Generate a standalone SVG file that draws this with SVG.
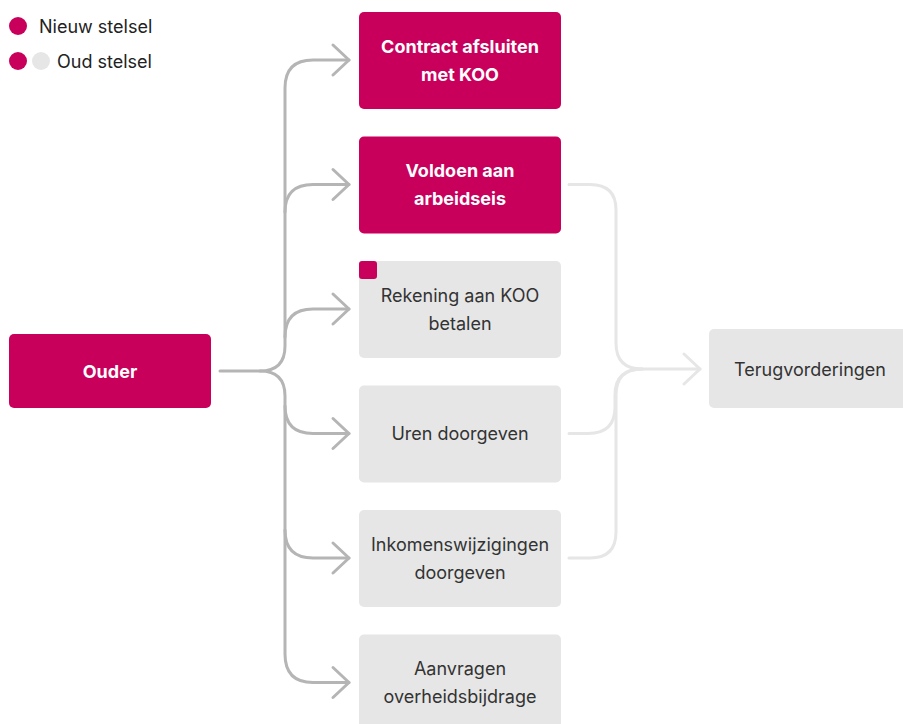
<svg xmlns="http://www.w3.org/2000/svg" width="903" height="724" viewBox="0 0 903 724">
<defs>
<style>
.new{fill:#c8005c}
.old{fill:#e6e6e6}
.tb{font-family:Inter,"Liberation Sans",sans-serif;font-size:18px;font-weight:700;fill:#ffffff;text-anchor:middle;dominant-baseline:central}
.tr{font-family:Inter,"Liberation Sans",sans-serif;font-size:18px;font-weight:400;fill:#333333;text-anchor:middle;dominant-baseline:central}
.lg{font-family:Inter,"Liberation Sans",sans-serif;font-size:18px;fill:#222222;dominant-baseline:central}
.cl{fill:none;stroke:#b5b5b5;stroke-width:3;stroke-linecap:round;stroke-linejoin:round}
.cr{fill:none;stroke:#e6e6e6;stroke-width:3;stroke-linecap:round;stroke-linejoin:round}
</style>
</defs>
<rect width="903" height="724" fill="#ffffff"/>
<g id="legend">
<circle cx="18" cy="26" r="9" class="new"/>
<text x="39" y="26" class="lg">Nieuw stelsel</text>
<circle cx="18" cy="61" r="9" class="new"/>
<circle cx="41" cy="61" r="9" class="old"/>
<text x="57" y="61" class="lg">Oud stelsel</text>
</g>
<g id="connectors">
<path class="cl" d="M220 371 H260 Q285 371 285 346 V88 Q285 60 313 60 H349"/>
<path class="cl" d="M260 371 Q285 371 285 396 V654 Q285 682.5 313 682.5 H349"/>
<path class="cl" d="M285 212 Q285 184.5 313 184.5 H349"/>
<path class="cl" d="M285 337 Q285 309 313 309 H349"/>
<path class="cl" d="M285 406 Q285 433.5 313 433.5 H349"/>
<path class="cl" d="M285 530 Q285 558 313 558 H349"/>
<polyline class="cl" points="333,45 349,60 333,75"/>
<polyline class="cl" points="333,169.5 349,184.5 333,199.5"/>
<polyline class="cl" points="333,294 349,309 333,324"/>
<polyline class="cl" points="333,418.5 349,433.5 333,448.5"/>
<polyline class="cl" points="333,543 349,558 333,573"/>
<polyline class="cl" points="333,667.5 349,682.5 333,697.5"/>
<path class="cr" d="M569 184.5 H590 Q616 184.5 616 210 V343 Q616 369 642 369 H700"/>
<path class="cr" d="M569 433.5 H588 Q615 433.5 615 407 V395 Q615 369 642 369"/>
<path class="cr" d="M569 558 H590 Q616 558 616 532 V395 Q616 369 642 369"/>
<polyline class="cr" points="684,354 700,369 684,384"/>
</g>
<g id="ouder">
<rect x="9" y="334" width="202" height="74" rx="5" class="new"/>
<text x="110" y="371" class="tb">Ouder</text>
</g>
<g id="contract">
<rect x="359" y="12" width="202" height="97" rx="5" class="new"/>
<text x="460" y="46" class="tb">Contract afsluiten</text>
<text x="460" y="74" class="tb">met KOO</text>
</g>
<g id="arbeidseis">
<rect x="359" y="136.5" width="202" height="97" rx="5" class="new"/>
<text x="460" y="170.5" class="tb">Voldoen aan</text>
<text x="460" y="198.5" class="tb">arbeidseis</text>
</g>
<g id="rekening">
<rect x="359" y="261" width="202" height="97" rx="5" class="old"/>
<rect x="359" y="261" width="18" height="18" rx="3" class="new"/>
<text x="460" y="295" class="tr">Rekening aan KOO</text>
<text x="460" y="323" class="tr">betalen</text>
</g>
<g id="uren">
<rect x="359" y="385.5" width="202" height="97" rx="5" class="old"/>
<text x="460" y="433.5" class="tr">Uren doorgeven</text>
</g>
<g id="inkomen">
<rect x="359" y="510" width="202" height="97" rx="5" class="old"/>
<text x="460" y="544" class="tr">Inkomenswijzigingen</text>
<text x="460" y="572" class="tr">doorgeven</text>
</g>
<g id="aanvragen">
<rect x="359" y="634.5" width="202" height="97" rx="5" class="old"/>
<text x="460" y="668.5" class="tr">Aanvragen</text>
<text x="460" y="696.5" class="tr">overheidsbijdrage</text>
</g>
<g id="terugvorderingen">
<rect x="709" y="329" width="210" height="79" rx="5" class="old"/>
<text x="810" y="369" class="tr">Terugvorderingen</text>
</g>
</svg>
